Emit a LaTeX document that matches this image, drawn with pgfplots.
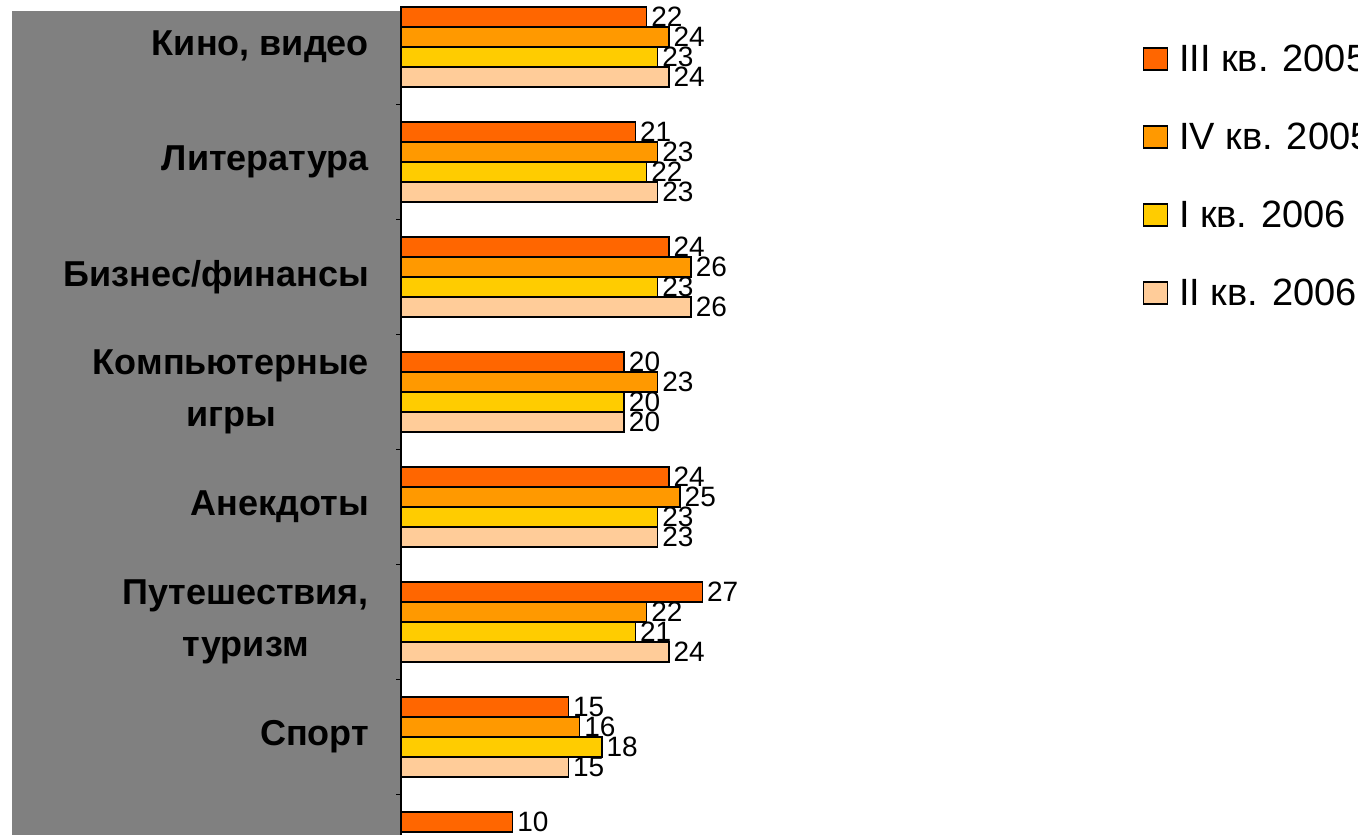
\documentclass[border=0pt]{standalone}
\usepackage{pgfplots}
\pgfplotsset{compat=1.18}
\usepackage{fontspec}
\setmainfont{Liberation Sans}
\definecolor{cA}{HTML}{FF6600}
\definecolor{cB}{HTML}{FF9900}
\definecolor{cC}{HTML}{FFCC00}
\definecolor{cD}{HTML}{FFCC99}
\definecolor{panel}{HTML}{808080}
\begin{document}
\begin{tikzpicture}
\clip (0pt,0pt) rectangle (679pt,417.5pt);
\fill[panel] (6pt,0pt) rectangle (200.5pt,412pt);
\begin{axis}[
  at={(200.5pt,0pt)}, anchor=south west,
  scale only axis, width=180pt, height=417.5pt,
  xmin=0, xmax=32.26, ymin=-6.852, ymax=0.409,
  xbar, bar width=10pt,
  axis line style={draw=none},
  xtick=\empty,
  ytick={-6.5,-5.5,-4.5,-3.5,-2.5,-1.5,-0.5},
  yticklabels={},
  ytick pos=left, tick align=outside, major tick length=2.5pt,
  y tick style={black, line width=0.75pt},
  clip=false,
  nodes near coords,
  /pgf/number format/assume math mode=true,
  every node near coord/.append style={font=\fontsize{14}{14}\selectfont, inner sep=1pt, xshift=1pt, black},
  legend style={at={(rel axis cs:2.042,0.968)}, anchor=north west, draw=none, fill=none,
    font=\fontsize{19}{19}\selectfont, row sep=14pt,
    nodes={inner sep=0pt, text height=20pt, text depth=5pt}},
  legend cell align=left,
  legend image code/.code={\draw[#1,draw=black,line width=0.75pt] (0pt,-7pt) rectangle (12pt,4pt); \path (17.5pt,0pt);},
]
\addplot[fill=cA, draw=black, line width=0.75pt, bar shift=15pt]
  coordinates {(22,0) (21,-1) (24,-2) (20,-3) (24,-4) (27,-5) (15,-6) (10,-7)};
\addplot[fill=cB, draw=black, line width=0.75pt, bar shift=5pt]
  coordinates {(24,0) (23,-1) (26,-2) (23,-3) (25,-4) (22,-5) (16,-6)};
\addplot[fill=cC, draw=black, line width=0.75pt, bar shift=-5pt]
  coordinates {(23,0) (22,-1) (23,-2) (20,-3) (23,-4) (21,-5) (18,-6)};
\addplot[fill=cD, draw=black, line width=0.75pt, bar shift=-15pt]
  coordinates {(24,0) (23,-1) (26,-2) (20,-3) (23,-4) (24,-5) (15,-6)};
\legend{III кв. 2005, IV кв. 2005, I кв. 2006, II кв. 2006}
\draw[black, line width=0.75pt] (axis cs:0,0.33) -- (axis cs:0,-6.852);
\begin{scope}[every node/.style={anchor=east, font=\fontsize{18}{26}\selectfont\bfseries, align=center, xshift=-12.5pt}]
\node at (axis cs:0,0) {Кино, видео};
\node at (axis cs:0,-1) {Литература};
\node at (axis cs:0,-2) {Бизнес/финансы};
\node at (axis cs:0,-3) {Компьютерные\\игры};
\node at (axis cs:0,-4) {Анекдоты};
\node at (axis cs:0,-5) {Путешествия,\\туризм};
\node at (axis cs:0,-6) {Спорт};
\end{scope}
\end{axis}
\end{tikzpicture}
\end{document}
